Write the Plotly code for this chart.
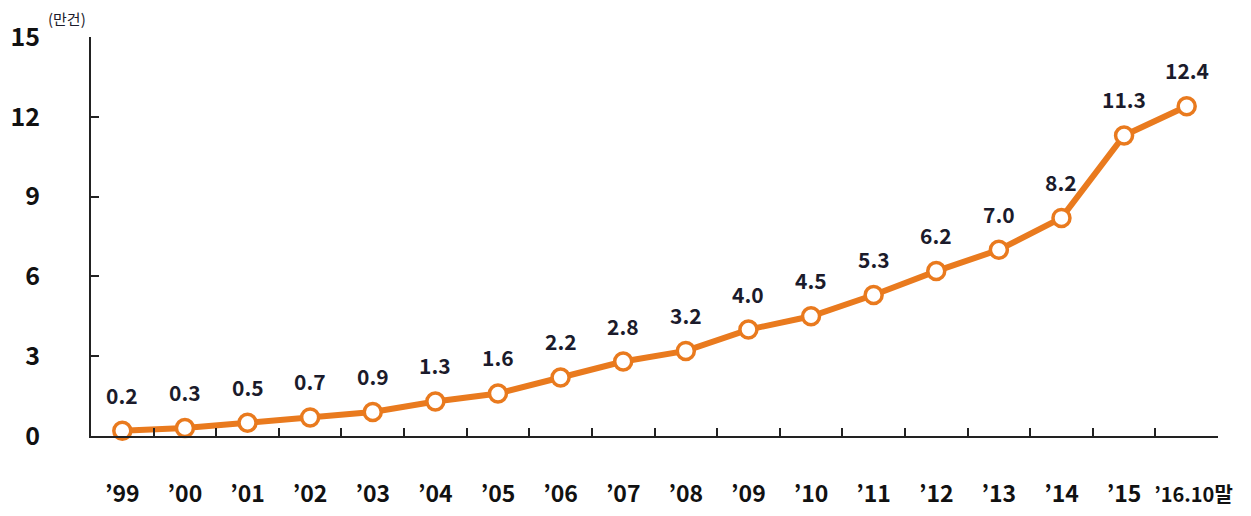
import plotly.graph_objects as go

categories = ["’99", "’00", "’01", "’02", "’03", "’04", "’05", "’06", "’07", "’08",
              "’09", "’10", "’11", "’12", "’13", "’14", "’15", "’16.10말"]
values = [0.2, 0.3, 0.5, 0.7, 0.9, 1.3, 1.6, 2.2, 2.8, 3.2, 4.0, 4.5, 5.3, 6.2, 7.0, 8.2, 11.3, 12.4]
value_labels = ["0.2", "0.3", "0.5", "0.7", "0.9", "1.3", "1.6", "2.2", "2.8", "3.2",
                "4.0", "4.5", "5.3", "6.2", "7.0", "8.2", "11.3", "12.4"]
y_ticks = [0, 3, 6, 9, 12, 15]

ORANGE = "#E97A1E"
TEXT = "#1b1b2b"
FONT = "Noto Sans CJK KR"

tick_text = [c if i < len(categories) - 1 else
             '<span style="font-size:20px">\u00a0\u00a0\u00a0' + c + "</span>"
             for i, c in enumerate(categories)]

fig = go.Figure()
fig.add_trace(go.Scatter(
    x=categories, y=values, mode="lines+markers",
    line=dict(color=ORANGE, width=6),
    marker=dict(size=17, color="white", line=dict(color=ORANGE, width=3.5)),
    cliponaxis=False, showlegend=False,
))

for c, v, t in zip(categories, values, value_labels):
    fig.add_annotation(x=c, y=v, text=t, showarrow=False, yshift=36,
                       font=dict(family=FONT, size=21, color=TEXT, weight="bold"))

fig.add_annotation(xref="paper", yref="paper", x=0, y=1, xshift=-3, yshift=6,
                   xanchor="right", yanchor="bottom", text="(만건)", showarrow=False,
                   font=dict(family=FONT, size=15, color=TEXT))

fig.update_layout(
    width=1251, height=516,
    margin=dict(l=83, r=41, t=29, b=88),
    plot_bgcolor="white", paper_bgcolor="white",
    font=dict(family=FONT, color=TEXT),
)
fig.update_xaxes(
    type="category", range=[-0.5, len(categories) - 0.5],
    tickvals=categories, ticktext=tick_text, tickangle=0, automargin=False,
    showline=True, linecolor="#222", linewidth=2,
    ticks="inside", ticklen=8, tickwidth=2, tickcolor="#222",
    tickson="boundaries", showgrid=False,
    tickfont=dict(family=FONT, size=23, color="#111", weight="bold"),
    ticklabelstandoff=36,
)
fig.update_yaxes(
    range=[0, 15], tickvals=y_ticks, automargin=False,
    showline=True, linecolor="#222", linewidth=2,
    ticks="inside", ticklen=8, tickwidth=2, tickcolor="#222",
    showgrid=False, zeroline=False,
    tickfont=dict(family=FONT, size=25, color="#111", weight="bold"),
    ticklabelstandoff=44,
)

fig.write_html("out.html")
